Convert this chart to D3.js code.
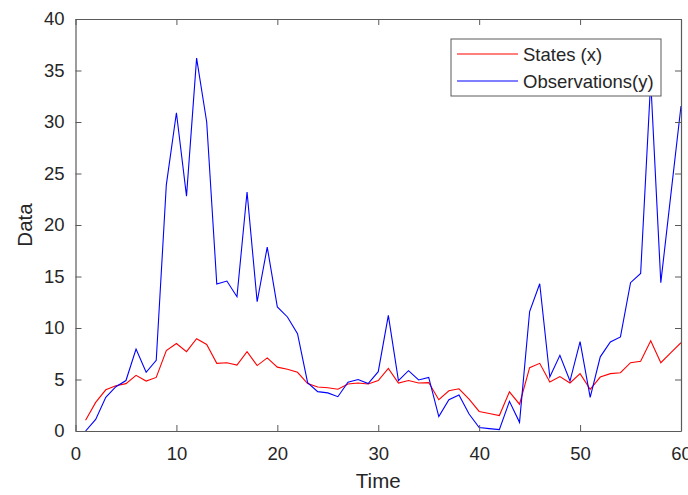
<!DOCTYPE html>
<html>
<head>
<meta charset="utf-8">
<script src="https://d3js.org/d3.v7.min.js"></script>
<style>
  body { margin: 0; background: #fff; }
  text { font-family: "Liberation Sans", Arial, sans-serif; fill: #262626; }
</style>
</head>
<body>
<script>
const time = d3.range(1, 61);

const states = [1.04, 2.78, 4.0, 4.4, 4.6, 5.4, 4.85, 5.2, 7.8, 8.5,
  7.7, 8.96, 8.4, 6.57, 6.63, 6.4, 7.7, 6.35, 7.1, 6.2,
  6.0, 5.7, 4.6, 4.27, 4.2, 4.05, 4.56, 4.66, 4.56, 4.9,
  6.08, 4.66, 4.9, 4.66, 4.7, 3.04, 3.9, 4.1, 3.1, 1.9,
  1.7, 1.5, 3.8, 2.6, 6.15, 6.57, 4.76, 5.28, 4.66, 5.57,
  4.05, 5.24, 5.57, 5.66, 6.63, 6.77, 8.77, 6.63, 7.6, 8.57];

const observations = [0.0, 1.13, 3.27, 4.3, 4.9, 7.96, 5.7, 6.86, 23.9, 30.9,
  22.8, 36.2, 30.0, 14.27, 14.56, 13.04, 23.2, 12.55, 17.86, 12.04,
  11.07, 9.45, 4.7, 3.82, 3.7, 3.33, 4.73, 5.0, 4.6, 5.76,
  11.23, 4.9, 5.86, 4.95, 5.2, 1.4, 3.04, 3.5, 1.65, 0.33,
  0.23, 0.13, 2.88, 0.84, 11.6, 14.3, 5.24, 7.35, 4.85, 8.67,
  3.27, 7.2, 8.64, 9.13, 14.4, 15.3, 34.0, 14.4, 23.0, 31.55];

const xTicks = [0, 10, 20, 30, 40, 50, 60];
const yTicks = [0, 5, 10, 15, 20, 25, 30, 35, 40];
const seriesNames = ["States (x)", "Observations(y)"];
const seriesColors = ["#ff0000", "#0000ff"];

const W = 688, H = 495;
const m = { left: 75.5, right: 7, top: 19, bottom: 64 };

const svg = d3.select("body").append("svg")
  .attr("width", W).attr("height", H);

const x = d3.scaleLinear().domain([0, 60]).range([m.left, W - m.right]);
const y = d3.scaleLinear().domain([0, 40]).range([H - m.bottom, m.top]);

const axisColor = "#5a5a5a";
const tickSize = 6;

// plot lines (clipped to the axes box)
svg.append("clipPath").attr("id", "clip")
  .append("rect")
  .attr("x", x(0)).attr("y", y(40))
  .attr("width", x(60) - x(0)).attr("height", y(0) - y(40));

const line = d3.line().x((d, i) => x(time[i])).y(d => y(d));

const plot = svg.append("g").attr("clip-path", "url(#clip)");
[states, observations].forEach((s, k) => {
  plot.append("path")
    .datum(s)
    .attr("d", line)
    .attr("fill", "none")
    .attr("stroke", seriesColors[k])
    .attr("stroke-width", 1.1);
});

// axes: bottom / left with labels, top / right ticks only
const styleAxis = g => {
  g.select(".domain").attr("stroke", axisColor).attr("stroke-width", 1.2);
  g.selectAll(".tick line").attr("stroke", axisColor).attr("stroke-width", 1);
  g.selectAll(".tick text").attr("fill", "#262626")
    .style("font-size", "18.5px").style("font-family", "'Liberation Sans', Arial, sans-serif");
};

svg.append("g")
  .attr("transform", `translate(0,${y(0)})`)
  .call(d3.axisBottom(x).tickValues(xTicks).tickSize(-tickSize).tickPadding(16).tickSizeOuter(0))
  .call(styleAxis);

svg.append("g")
  .attr("transform", `translate(0,${y(40)})`)
  .call(d3.axisTop(x).tickValues(xTicks).tickSize(-tickSize).tickFormat("").tickSizeOuter(0))
  .call(styleAxis);

svg.append("g")
  .attr("transform", `translate(${x(0)},0)`)
  .call(d3.axisLeft(y).tickValues(yTicks).tickSize(-tickSize).tickPadding(11).tickSizeOuter(0))
  .call(styleAxis);

svg.append("g")
  .attr("transform", `translate(${x(60)},0)`)
  .call(d3.axisRight(y).tickValues(yTicks).tickSize(-tickSize).tickFormat("").tickSizeOuter(0))
  .call(styleAxis);

// axis titles
svg.append("text")
  .attr("x", (x(0) + x(60)) / 2).attr("y", 488)
  .attr("text-anchor", "middle")
  .style("font-size", "20.5px")
  .text("Time");

svg.append("text")
  .attr("transform", `translate(32,${(y(0) + y(40)) / 2}) rotate(-90)`)
  .attr("text-anchor", "middle")
  .style("font-size", "20.5px")
  .text("Data");

// legend
const lg = svg.append("g").attr("transform", "translate(451,39)");
lg.append("rect")
  .attr("width", 210).attr("height", 57)
  .attr("fill", "#fff").attr("stroke", axisColor).attr("stroke-width", 1);

seriesNames.forEach((name, i) => {
  const ry = 15 + i * 27;
  lg.append("line")
    .attr("x1", 6).attr("x2", 67).attr("y1", ry).attr("y2", ry)
    .attr("stroke", seriesColors[i]).attr("stroke-width", 1.1);
  lg.append("text")
    .attr("x", 72).attr("y", ry + 6.5)
    .style("font-size", "18.5px")
    .text(name);
});
</script>
</body>
</html>
